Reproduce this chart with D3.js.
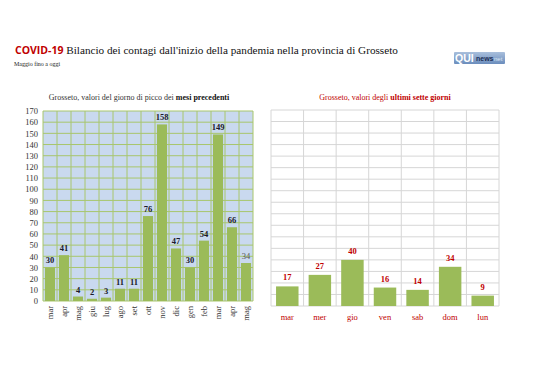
<!DOCTYPE html>
<html><head><meta charset="utf-8">
<script src="https://cdn.jsdelivr.net/npm/d3@7"></script>
<style>body{margin:0;background:#fff}svg{display:block}</style>
</head><body>
<script>
const monthLabels = ["mar","apr","mag","giu","lug","ago","set","ott","nov","dic","gen","feb","mar","apr","mag"];
const monthValues = [30,41,4,2,3,11,11,76,158,47,30,54,149,66,34];
const dayLabels = ["mar","mer","gio","ven","sab","dom","lun"];
const dayValues = [17,27,40,16,14,34,9];
const yTicks = d3.range(0,171,10);

const W=538,H=380;
const serif = "Liberation Serif, DejaVu Serif, serif";
const svg = d3.select("body").append("svg").attr("width",W).attr("height",H);

// Title
const t = svg.append("text").attr("x",15).attr("y",54).attr("font-size",11.2);
t.append("tspan").attr("font-family","Open Sans, Liberation Sans, sans-serif").attr("font-weight","bold").attr("fill","#c00000").attr("font-size",10.5).text("COVID-19 ");
t.append("tspan").attr("font-family",serif).attr("fill","#111").text("Bilancio dei contagi dall'inizio della pandemia nella provincia di Grosseto");
svg.append("text").attr("x",14).attr("y",66).attr("font-family",serif).attr("font-size",6).attr("fill","#222").text("Maggio fino a oggi");

// Logo
const lg = svg.append("g");
const grad = svg.append("defs").append("linearGradient").attr("id","lg").attr("x1",0).attr("y1",0).attr("x2",0).attr("y2",1);
grad.append("stop").attr("offset","0").attr("stop-color","#a9bfdc");
grad.append("stop").attr("offset","1").attr("stop-color","#6b8dbd");
lg.append("rect").attr("x",454).attr("y",52).attr("width",51).attr("height",12).attr("fill","url(#lg)").attr("rx",1);
lg.append("text").attr("x",455).attr("y",62).attr("font-family","Liberation Sans, sans-serif").attr("font-weight","bold").attr("font-size",10.5).attr("fill","#fff").text("QUI");
lg.append("text").attr("x",476).attr("y",61).attr("font-family","Liberation Sans, sans-serif").attr("font-weight","bold").attr("font-size",7).attr("fill","#1d2f55").text("news");
lg.append("text").attr("x",494).attr("y",61).attr("font-family","Liberation Sans, sans-serif").attr("font-size",6).attr("fill","#dfe7f3").text("net");

// ---------- Left chart ----------
const L = {x0:43, x1:253, y0:111, y1:301};
const xL = d3.scaleBand().domain(d3.range(monthLabels.length)).range([L.x0,L.x1]).paddingInner(0.28).paddingOuter(0.14);
const yL = d3.scaleLinear().domain([0,170]).range([L.y1,L.y0]);
svg.append("rect").attr("x",L.x0).attr("y",L.y0).attr("width",L.x1-L.x0).attr("height",L.y1-L.y0).attr("fill","#c9d9ef");
const gL = svg.append("g");
gL.selectAll(".h").data(yTicks).join("line").attr("x1",L.x0).attr("x2",L.x1).attr("y1",d=>yL(d)).attr("y2",d=>yL(d)).attr("stroke","#a8c66c").attr("stroke-width",1);
const stepL = (L.x1-L.x0)/monthLabels.length;
gL.selectAll(".v").data(d3.range(monthLabels.length+1)).join("line").attr("x1",i=>L.x0+i*stepL).attr("x2",i=>L.x0+i*stepL).attr("y1",L.y0).attr("y2",L.y1).attr("stroke","#a8c66c").attr("stroke-width",1);
gL.selectAll(".bar").data(monthValues).join("rect").attr("x",(d,i)=>xL(i)).attr("width",xL.bandwidth()).attr("y",d=>yL(d)).attr("height",d=>yL(0)-yL(d)).attr("fill","#9bbb59");
gL.selectAll(".lab").data(monthValues).join("text").attr("x",(d,i)=>xL(i)+xL.bandwidth()/2).attr("y",d=>yL(d)-4).attr("text-anchor","middle").attr("font-family",serif).attr("font-weight",(d,i)=>i===monthValues.length-1?"normal":"bold").attr("font-size",8.5).attr("fill",(d,i)=>i===monthValues.length-1?"#555":"#1a1a2a").text(d=>d);
// y axis
const axL = svg.append("g").attr("transform",`translate(${L.x0},0)`).call(d3.axisLeft(yL).tickValues(yTicks).tickSize(0).tickPadding(5));
axL.select(".domain").remove();
axL.selectAll("text").attr("font-family",serif).attr("font-size",8.5).attr("fill","#333");
// x labels
gL.selectAll(".xl").data(monthLabels).join("text").attr("transform",(d,i)=>`translate(${xL(i)+xL.bandwidth()/2+3},${L.y1+5}) rotate(-90)`).attr("text-anchor","end").attr("font-family",serif).attr("font-size",8.5).attr("fill","#333").text(d=>d);
const sl = svg.append("text").attr("x",(L.x0+L.x1)/2-9).attr("y",100).attr("text-anchor","middle").attr("font-family",serif).attr("font-size",8).attr("fill","#333");
sl.append("tspan").text("Grosseto, valori del giorno di picco dei ");
sl.append("tspan").attr("font-weight","bold").attr("fill","#111").text("mesi precedenti");

// ---------- Right chart ----------
const R = {x0:271, x1:499, y0:110, y1:306};
const xR = d3.scaleBand().domain(d3.range(dayLabels.length)).range([R.x0,R.x1]).paddingInner(0.31).paddingOuter(0.155);
const yR = d3.scaleLinear().domain([0,170]).range([R.y1,R.y0]);
const gR = svg.append("g");
gR.selectAll(".h").data(yTicks).join("line").attr("x1",R.x0).attr("x2",R.x1).attr("y1",d=>yR(d)).attr("y2",d=>yR(d)).attr("stroke","#d6d6d6").attr("stroke-width",1);
const stepR = (R.x1-R.x0)/dayLabels.length;
gR.selectAll(".v").data(d3.range(dayLabels.length+1)).join("line").attr("x1",i=>R.x0+i*stepR).attr("x2",i=>R.x0+i*stepR).attr("y1",R.y0).attr("y2",R.y1).attr("stroke","#d6d6d6").attr("stroke-width",1);
gR.selectAll(".bar").data(dayValues).join("rect").attr("x",(d,i)=>xR(i)).attr("width",xR.bandwidth()).attr("y",d=>yR(d)).attr("height",d=>yR(0)-yR(d)).attr("fill","#9bbb59");
gR.selectAll(".lab").data(dayValues).join("text").attr("x",(d,i)=>xR(i)+xR.bandwidth()/2).attr("y",d=>yR(d)-6).attr("text-anchor","middle").attr("font-family",serif).attr("font-weight","bold").attr("font-size",8.5).attr("fill","#c00000").text(d=>d);
gR.selectAll(".xl").data(dayLabels).join("text").attr("x",(d,i)=>xR(i)+xR.bandwidth()/2).attr("y",R.y1+14).attr("text-anchor","middle").attr("font-family",serif).attr("font-size",8.5).attr("fill","#c00000").text(d=>d);
const sr = svg.append("text").attr("x",(R.x0+R.x1)/2).attr("y",100).attr("text-anchor","middle").attr("font-family",serif).attr("font-size",8).attr("fill","#c00000");
sr.append("tspan").text("Grosseto, valori degli ");
sr.append("tspan").attr("font-weight","bold").text("ultimi sette giorni");
</script>
</body></html>
